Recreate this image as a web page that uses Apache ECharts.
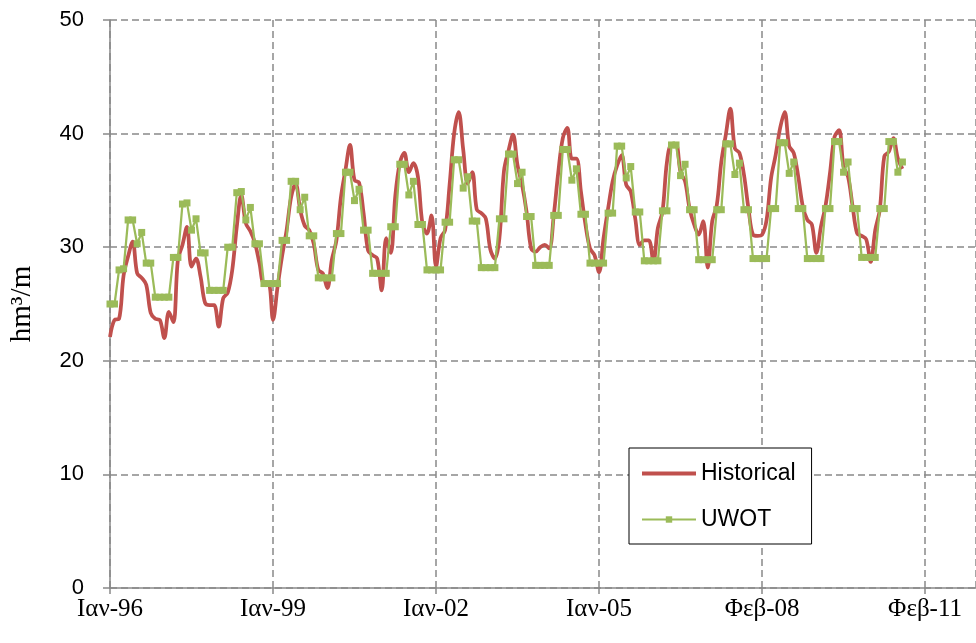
<!DOCTYPE html>
<html>
<head>
<meta charset="utf-8">
<script src="https://cdn.jsdelivr.net/npm/echarts@6/dist/echarts.min.js"></script>
<style>
  html, body { margin: 0; padding: 0; background: #fff; }
  #chart { width: 976px; height: 643px; }
</style>
</head>
<body>
<div id="chart"></div>
<script>
// x tick labels, one every 36 months starting at Jan 1996
const tickLabels = ['Ιαν-96', 'Ιαν-99', 'Ιαν-02', 'Ιαν-05', 'Φεβ-08', 'Φεβ-11'];

// monthly values, hm³/m
const historical = [
  22.1, 23.6, 23.7, 27.5, 29.2, 30.5, 27.7, 27.3, 26.7, 24.2, 23.7, 23.6,
  22.0, 24.3, 23.4, 28.9, 30.2, 31.8, 28.3, 29.0, 27.4, 25.1, 24.9, 24.9,
  23.0, 25.5, 26.0, 28.0, 31.8, 34.6, 32.1, 31.4, 30.4, 28.6, 26.8, 26.8,
  23.6, 26.5, 29.2, 31.5, 34.4, 35.6, 33.3, 31.9, 31.5, 30.3, 28.0, 27.7,
  26.4, 28.9, 30.6, 34.4, 36.8, 39.0, 35.9, 35.7, 33.0, 29.7, 29.3, 29.0,
  26.2, 30.8, 29.5, 34.5, 37.4, 38.3, 36.6, 37.4, 36.2, 32.1, 31.2, 32.8,
  28.3, 30.8, 31.5, 35.5, 40.0, 41.9, 38.6, 35.6, 36.6, 33.3, 33.0, 32.5,
  29.8, 29.0, 30.8, 36.7, 38.5, 39.9, 37.2, 35.5, 33.1, 29.9, 29.6, 30.0,
  30.2, 29.9, 32.8, 36.6, 39.6, 40.5, 37.8, 37.8, 34.9, 32.0, 29.9, 29.3,
  27.8, 30.8, 33.4, 35.8, 37.2, 38.1, 35.5, 34.9, 32.5, 30.2, 30.6, 30.6,
  28.7, 31.7, 33.1, 37.5, 39.0, 39.0, 36.6, 35.8, 33.4, 32.0, 31.1, 32.3,
  28.2, 32.3, 33.7, 37.5, 39.9, 42.2, 38.7, 38.3, 36.4, 33.4, 31.1, 31.0,
  31.1, 32.4, 36.1, 38.1, 40.5, 41.9, 38.9, 38.3, 36.2, 33.6, 32.4, 32.0,
  29.5, 31.8, 33.6, 36.5, 39.7, 40.3, 37.1, 36.2, 33.6, 31.2, 31.0, 30.7,
  28.7, 31.5, 33.3, 38.0, 38.4, 39.6, 37.8, 36.9
];

const uwot = [
  25.0, 25.0, 28.0, 28.1, 32.4, 32.4, 30.3, 31.3, 28.6, 28.6, 25.6, 25.6,
  25.6, 25.6, 29.1, 29.1, 33.8, 33.9, 31.5, 32.5, 29.5, 29.5, 26.2, 26.2,
  26.2, 26.2, 30.0, 30.0, 34.8, 34.9, 32.4, 33.5, 30.3, 30.3, 26.8, 26.8,
  26.8, 26.8, 30.6, 30.6, 35.8, 35.8, 33.3, 34.4, 31.0, 31.0, 27.3, 27.3,
  27.3, 27.3, 31.2, 31.2, 36.6, 36.6, 34.1, 35.1, 31.5, 31.5, 27.7, 27.7,
  27.7, 27.7, 31.8, 31.8, 37.3, 37.3, 34.6, 35.8, 32.0, 32.0, 28.0, 28.0,
  28.0, 28.0, 32.2, 32.2, 37.7, 37.7, 35.2, 36.2, 32.3, 32.3, 28.2, 28.2,
  28.2, 28.2, 32.5, 32.5, 38.2, 38.2, 35.6, 36.6, 32.7, 32.7, 28.4, 28.4,
  28.4, 28.4, 32.8, 32.8, 38.6, 38.6, 35.9, 36.9, 32.9, 32.9, 28.6, 28.6,
  28.6, 28.6, 33.0, 33.0, 38.9, 38.9, 36.1, 37.1, 33.1, 33.1, 28.8, 28.8,
  28.8, 28.8, 33.2, 33.2, 39.0, 39.0, 36.3, 37.3, 33.3, 33.3, 28.9, 28.9,
  28.9, 28.9, 33.3, 33.3, 39.1, 39.1, 36.4, 37.4, 33.3, 33.3, 29.0, 29.0,
  29.0, 29.0, 33.4, 33.4, 39.2, 39.2, 36.5, 37.5, 33.4, 33.4, 29.0, 29.0,
  29.0, 29.0, 33.4, 33.4, 39.3, 39.3, 36.6, 37.5, 33.4, 33.4, 29.1, 29.1,
  29.1, 29.1, 33.4, 33.4, 39.3, 39.3, 36.6, 37.5
];

const gridColor = '#898989';
const sans = 'Liberation Sans';
const serif = 'Liberation Serif';

const chart = echarts.init(document.getElementById('chart'), null, { renderer: 'canvas' });

chart.setOption({
  animation: false,
  backgroundColor: '#fff',
  grid: { left: 110, top: 20, right: 0, bottom: 55, outerBoundsMode: 'none', containLabel: false },
  legend: {
    orient: 'vertical',
    left: 629,
    top: 448,
    padding: [14, 16, 13, 11],
    itemGap: 23,
    itemWidth: 54,
    itemHeight: 8,
    backgroundColor: '#fff',
    borderColor: '#000',
    borderWidth: 1,
    textStyle: { fontFamily: sans, fontSize: 23, color: '#000' },
    data: [
      { name: 'Historical', itemStyle: { opacity: 0 }, lineStyle: { width: 4 } },
      { name: 'UWOT' }
    ]
  },
  xAxis: {
    type: 'value',
    min: 0,
    max: 191.25,
    interval: 36,
    axisLine: { lineStyle: { color: gridColor, width: 1.5 } },
    axisTick: { show: true, length: 6, lineStyle: { color: gridColor, width: 1.5 } },
    axisLabel: {
      fontFamily: serif,
      fontSize: 25,
      color: '#000',
      margin: 9,
      showMaxLabel: false,
      formatter: (v) => (v % 36 === 0 ? tickLabels[v / 36] : '')
    },
    splitLine: { show: true, lineStyle: { color: gridColor, width: 1.5, type: [7, 4] } }
  },
  yAxis: {
    type: 'value',
    min: 0,
    max: 50,
    interval: 10,
    name: 'hm³/m',
    nameLocation: 'middle',
    nameRotate: 90,
    nameGap: 73,
    nameTextStyle: { fontFamily: serif, fontSize: 29, color: '#000' },
    axisLine: { show: true, lineStyle: { color: gridColor, width: 1.5 } },
    axisTick: { show: true, length: 7, lineStyle: { color: gridColor, width: 1.5 } },
    axisLabel: { fontFamily: sans, fontSize: 22, color: '#000', margin: 26 },
    splitLine: { show: true, lineStyle: { color: gridColor, width: 1.5, type: [7, 4] } }
  },
  series: [
    {
      name: 'Historical',
      type: 'line',
      smooth: 0.35,
      symbol: 'none',
      lineStyle: { color: '#C0504D', width: 3.75 },
      itemStyle: { color: '#C0504D' },
      data: historical.map((v, i) => [i, v]),
      z: 2
    },
    {
      name: 'UWOT',
      type: 'line',
      symbol: 'rect',
      symbolSize: 7,
      lineStyle: { color: '#9BBB59', width: 2.25 },
      itemStyle: { color: '#9BBB59' },
      data: uwot.map((v, i) => [i, v]),
      z: 3
    }
  ]
});
</script>
</body>
</html>
